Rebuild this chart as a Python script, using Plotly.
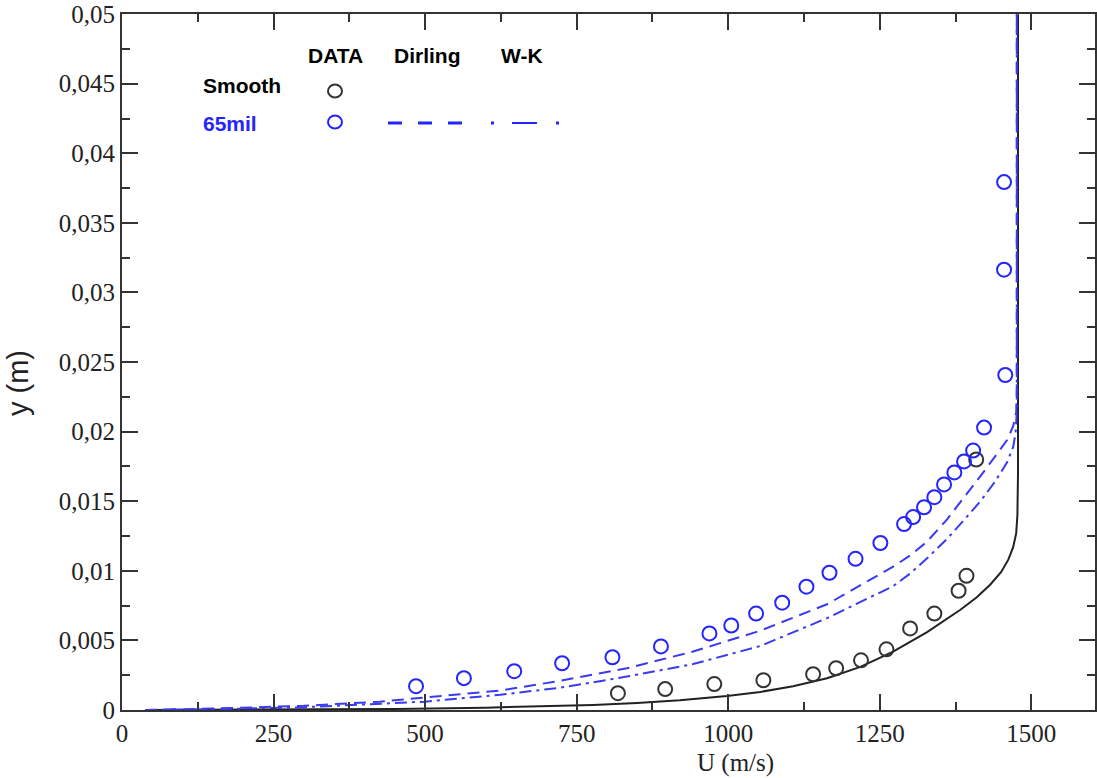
import plotly.graph_objects as go

# ---------------- data ----------------
u_smooth_data = [818, 896, 977, 1058, 1140, 1178, 1219, 1261, 1300, 1340, 1380, 1393, 1409]
y_smooth_data = [0.00121, 0.0015, 0.00186, 0.00214, 0.00257, 0.0030, 0.00357, 0.00436,
                 0.00586, 0.00693, 0.00857, 0.00964, 0.0180]

u_65_data = [485, 564, 647, 726, 809, 889, 969, 1005, 1046, 1089, 1129, 1167, 1210, 1251,
             1290, 1305, 1323, 1340, 1356, 1373, 1389, 1404, 1422, 1457, 1455, 1455]
y_65_data = [0.00171, 0.00229, 0.00279, 0.00336, 0.00379, 0.00457, 0.0055, 0.00607, 0.00693,
             0.00771, 0.00886, 0.00986, 0.01086, 0.0120, 0.01336, 0.01386, 0.01457, 0.01529,
             0.01621, 0.01707, 0.01786, 0.01864, 0.02029, 0.02407, 0.03164, 0.03793]

u_smooth_sim = [38, 150, 300, 450, 600, 700, 777, 850, 920, 998, 1053, 1107, 1163, 1218,
                1272, 1328, 1383, 1410, 1432, 1450, 1462, 1470, 1475, 1477, 1478, 1478]
y_smooth_sim = [0, 0.00001, 0.00003, 0.00008, 0.00017, 0.00026, 0.00036, 0.0005, 0.0007,
                0.00100, 0.00130, 0.00170, 0.00228, 0.0031, 0.0042, 0.0056, 0.0072, 0.0081,
                0.0090, 0.0099, 0.0108, 0.0117, 0.0127, 0.0140, 0.017, 0.05]

u_dirling = [38, 150, 300, 425, 500, 624, 723, 833, 942, 1053, 1163, 1272, 1300, 1328, 1361,
             1399, 1416, 1440, 1460, 1470, 1475, 1476, 1476]
y_dirling = [0, 0.0001, 0.0003, 0.0006, 0.0009, 0.0014, 0.0021, 0.003, 0.0042, 0.0057,
             0.0076, 0.0103, 0.0111, 0.0121, 0.0137, 0.0158, 0.0168, 0.0182, 0.0194,
             0.0204, 0.0214, 0.023, 0.05]

u_wk = [38, 150, 300, 500, 624, 723, 833, 942, 1053, 1163, 1272, 1300, 1328, 1361, 1390,
        1416, 1440, 1460, 1470, 1474, 1476, 1476]
y_wk = [0, 0.00005, 0.0002, 0.0006, 0.0011, 0.0016, 0.0024, 0.0033, 0.0046, 0.0066, 0.0089,
        0.0098, 0.0109, 0.0123, 0.0137, 0.0150, 0.0164, 0.0178, 0.0189, 0.0199, 0.0215, 0.05]

x_ticks = [0, 250, 500, 750, 1000, 1250, 1500]
x_ticktext = ["0", "250", "500", "750", "1000", "1250", "1500"]
y_ticks = [0, 0.005, 0.01, 0.015, 0.02, 0.025, 0.03, 0.035, 0.04, 0.045, 0.05]
y_ticktext = ["0", "0,005", "0,01", "0,015", "0,02", "0,025", "0,03", "0,035", "0,04", "0,045", "0,05"]

BLUE = "#2424ff"
BLUE_LINE = "#3a3af0"
DARK = "#333333"

fig = go.Figure()

fig.add_trace(go.Scatter(x=u_smooth_sim, y=y_smooth_sim, mode="lines",
                         line=dict(color="#222222", width=2), showlegend=False))
fig.add_trace(go.Scatter(x=u_dirling, y=y_dirling, mode="lines",
                         line=dict(color=BLUE_LINE, width=2, dash="12px,7px"), showlegend=False))
fig.add_trace(go.Scatter(x=u_wk, y=y_wk, mode="lines",
                         line=dict(color=BLUE_LINE, width=2, dash="12px,5px,3px,5px"), showlegend=False))
fig.add_trace(go.Scatter(x=u_smooth_data, y=y_smooth_data, mode="markers",
                         marker=dict(symbol="circle-open", size=14, color=DARK, line=dict(width=2)),
                         showlegend=False))
fig.add_trace(go.Scatter(x=u_65_data, y=y_65_data, mode="markers",
                         marker=dict(symbol="circle-open", size=14, color=BLUE, line=dict(width=2)),
                         showlegend=False))

# plot area pixel geometry (for legend / title placement in paper coords)
L, R, T, B = 122, 1095, 14, 710
def px(x):
    return (x - L) / (R - L)
def py(y):
    return (B - y) / (B - T)

annots = []
for txt, x, y, col in [("DATA", 335, 55, "black"), ("Dirling", 427, 55, "black"),
                       ("W-K", 522, 55, "black"), ("Smooth", 242, 86, "black"),
                       ("65mil", 230, 123, BLUE)]:
    annots.append(dict(text="<b>%s</b>" % txt, x=px(x), y=py(y), xref="paper", yref="paper",
                       showarrow=False, xanchor="center", yanchor="middle",
                       font=dict(family="Liberation Sans, Arial", size=21, color=col)))

# axis titles
annots.append(dict(text="U (m/s)", x=px(735), y=py(778), xref="paper", yref="paper",
                   showarrow=False, xanchor="center", yanchor="bottom", borderpad=0,
                   font=dict(family="Liberation Serif, Times New Roman", size=25, color="#222222")))
annots.append(dict(text="y (m)", x=px(18), y=py(383), xref="paper", yref="paper",
                   showarrow=False, xanchor="center", yanchor="middle", textangle=-90,
                   font=dict(family="Liberation Sans, Arial", size=29, color="#222222")))

shapes = []
for cx, cy, col in [(335, 91, DARK), (335, 122, BLUE)]:
    shapes.append(dict(type="circle", xref="paper", yref="paper", xsizemode="pixel",
                       ysizemode="pixel", xanchor=px(cx), yanchor=py(cy),
                       x0=-7, x1=7, y0=-6.5, y1=6.5, line=dict(color=col, width=2)))
# Dirling legend sample (dashed)
shapes.append(dict(type="line", xref="paper", yref="paper", x0=px(388), x1=px(463),
                   y0=py(123), y1=py(123), line=dict(color=BLUE, width=3, dash="14px,16px")))
# W-K legend sample (dot - dash - dot)
for x0, x1 in [(491, 494), (512, 537), (556, 559)]:
    shapes.append(dict(type="line", xref="paper", yref="paper", x0=px(x0), x1=px(x1),
                       y0=py(123), y1=py(123), line=dict(color=BLUE, width=3 if x1 - x0 < 5 else 2)))

tickfont = dict(family="Liberation Serif, Times New Roman", size=25, color="#222222")

fig.update_layout(
    width=1097, height=778,
    margin=dict(l=L, r=1097 - R, t=T, b=778 - B),
    paper_bgcolor="white", plot_bgcolor="white",
    annotations=annots, shapes=shapes,
    xaxis=dict(range=[0, 1605], tickvals=x_ticks, ticktext=x_ticktext, automargin=False,
               showgrid=False, zeroline=False, showline=True, linecolor=DARK, linewidth=2,
               mirror="ticks", ticks="inside", ticklen=16, tickwidth=1.5, tickcolor=DARK,
               minor=dict(ticks="inside", dtick=125, ticklen=8, tickwidth=1.5, tickcolor=DARK, showgrid=False),
               tickfont=tickfont, ticklabeloverflow="allow"),
    yaxis=dict(range=[0, 0.05001], tickvals=y_ticks, ticktext=y_ticktext, automargin=False,
               showgrid=False, zeroline=False, showline=True, linecolor=DARK, linewidth=2,
               mirror="ticks", ticks="inside", ticklen=16, tickwidth=1.5, tickcolor=DARK,
               minor=dict(ticks="inside", dtick=0.0025, ticklen=8, tickwidth=1.5, tickcolor=DARK, showgrid=False),
               tickfont=tickfont, ticklabeloverflow="allow"),
)

fig.write_html("out.html")
